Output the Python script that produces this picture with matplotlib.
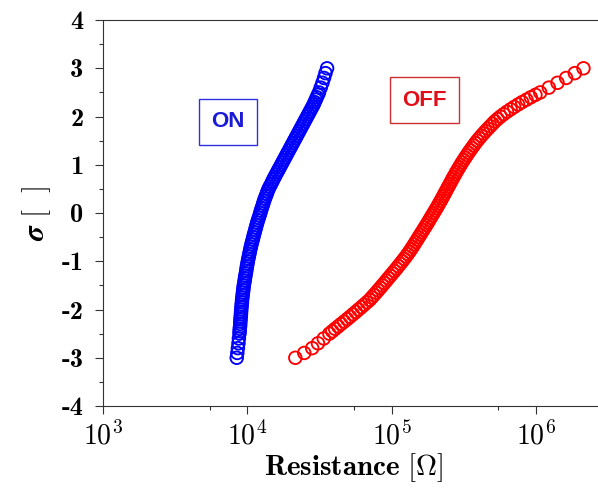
import numpy as np
import matplotlib.pyplot as plt
from matplotlib.ticker import FixedLocator, NullFormatter

plt.rcParams['mathtext.fontset'] = 'cm'
plt.rcParams['axes.unicode_minus'] = False

# normal quantile (sigma) of each sample
sigma_on = [-3.0, -2.9, -2.8, -2.7, -2.6,
            -2.5, -2.45, -2.4, -2.35, -2.3, -2.25, -2.2, -2.15, -2.1, -2.05,
            -2.0, -1.95, -1.9, -1.85, -1.8, -1.75, -1.7, -1.65, -1.6, -1.55,
            -1.5, -1.45, -1.4, -1.35, -1.3, -1.25, -1.2, -1.15, -1.1, -1.05,
            -1.0, -0.95, -0.9, -0.85, -0.8, -0.75, -0.7, -0.65, -0.6, -0.55,
            -0.5, -0.45, -0.4, -0.35, -0.3, -0.25, -0.2, -0.15, -0.1, -0.05,
            0.0, 0.05, 0.1, 0.15, 0.2, 0.25, 0.3, 0.35, 0.4, 0.45,
            0.5, 0.55, 0.6, 0.65, 0.7, 0.75, 0.8, 0.85, 0.9, 0.95,
            1.0, 1.05, 1.1, 1.15, 1.2, 1.25, 1.3, 1.35, 1.4, 1.45,
            1.5, 1.55, 1.6, 1.65, 1.7, 1.75, 1.8, 1.85, 1.9, 1.95,
            2.0, 2.05, 2.1, 2.15, 2.2, 2.25, 2.3, 2.35, 2.4, 2.45,
            2.5, 2.6, 2.7, 2.8, 2.9, 3.0]
sigma_off = list(sigma_on)

# log10 of resistance [Ohm]
log_res_on = [3.927, 3.931, 3.935, 3.939, 3.942,
              3.946, 3.947, 3.948, 3.950, 3.951, 3.952, 3.953, 3.955, 3.956, 3.957,
              3.958, 3.960, 3.961, 3.963, 3.964, 3.966, 3.968, 3.970, 3.972, 3.974,
              3.976, 3.979, 3.982, 3.984, 3.987, 3.990, 3.993, 3.995, 3.998, 4.001,
              4.004, 4.007, 4.011, 4.014, 4.018, 4.021, 4.025, 4.029, 4.033, 4.038,
              4.042, 4.046, 4.051, 4.055, 4.060, 4.064, 4.069, 4.074, 4.080, 4.085,
              4.090, 4.095, 4.100, 4.106, 4.111, 4.116, 4.122, 4.129, 4.135, 4.141,
              4.148, 4.156, 4.165, 4.173, 4.181, 4.190, 4.199, 4.208, 4.217, 4.226,
              4.235, 4.244, 4.253, 4.262, 4.271, 4.280, 4.289, 4.298, 4.307, 4.316,
              4.325, 4.334, 4.343, 4.352, 4.361, 4.370, 4.379, 4.388, 4.397, 4.406,
              4.415, 4.424, 4.433, 4.442, 4.451, 4.460, 4.467, 4.475, 4.482, 4.490,
              4.497, 4.509, 4.521, 4.532, 4.542, 4.553]
log_res_off = [4.333, 4.395, 4.450, 4.490, 4.530,
               4.569, 4.589, 4.609, 4.630, 4.650, 4.671, 4.692, 4.712, 4.732, 4.752,
               4.771, 4.791, 4.810, 4.829, 4.848, 4.863, 4.878, 4.893, 4.907, 4.922,
               4.936, 4.950, 4.964, 4.978, 4.992, 5.006, 5.020, 5.034, 5.047, 5.061,
               5.074, 5.087, 5.100, 5.112, 5.124, 5.135, 5.146, 5.157, 5.167, 5.178,
               5.188, 5.199, 5.209, 5.220, 5.230, 5.241, 5.251, 5.261, 5.271, 5.281,
               5.291, 5.301, 5.311, 5.321, 5.330, 5.340, 5.349, 5.358, 5.367, 5.376,
               5.385, 5.394, 5.403, 5.412, 5.421, 5.430, 5.440, 5.449, 5.459, 5.469,
               5.479, 5.489, 5.500, 5.511, 5.522, 5.533, 5.545, 5.557, 5.569, 5.581,
               5.594, 5.608, 5.622, 5.637, 5.652, 5.668, 5.684, 5.700, 5.716, 5.735,
               5.755, 5.777, 5.800, 5.825, 5.850, 5.877, 5.905, 5.935, 5.965, 5.997,
               6.030, 6.090, 6.150, 6.210, 6.270, 6.330]

res_on = 10 ** np.array(log_res_on)
res_off = 10 ** np.array(log_res_off)

fig = plt.figure(figsize=(5.98, 4.98), dpi=100)
ax = fig.add_axes([0.1722, 0.1847, 0.839, 0.775])

ax.scatter(res_on, sigma_on, s=82, facecolors='none', edgecolors='#0000ff',
           linewidths=1.35)
ax.scatter(res_off, sigma_off, s=82, facecolors='none', edgecolors='#ff0000',
           linewidths=1.35)

ax.set_xscale('log')
ax.set_xlim(1e3, 3e6)
ax.set_ylim(-4, 4)

ax.xaxis.set_major_locator(FixedLocator([1e3, 1e4, 1e5, 1e6]))
ax.set_xticklabels([r'$\mathbf{10^{%d}}$' % p for p in (3, 4, 5, 6)],
                   fontsize=20)
ax.xaxis.set_minor_locator(FixedLocator([5.5e3, 5.5e4, 5.5e5]))
ax.xaxis.set_minor_formatter(NullFormatter())

ax.set_yticks(range(-4, 5))
ax.set_yticklabels([str(v) for v in range(-4, 5)], fontfamily='cmb10',
                   fontsize=19)
ax.set_yticks(np.arange(-3.5, 4, 1), minor=True)

ax.tick_params(which='major', direction='out', length=6, width=0.8,
               color='#333333')
ax.tick_params(axis='y', which='major', pad=8)
ax.tick_params(axis='x', which='major', pad=5)
ax.tick_params(which='minor', direction='out', length=3, width=0.8,
               color='#333333')
for s in ax.spines.values():
    s.set_color('#333333')
    s.set_linewidth(0.8)

ax.set_xlabel(r'$\mathbf{Resistance\ [\Omega]}$', fontsize=21, labelpad=1)
ax.set_ylabel(r'$\boldsymbol{\sigma}\ \mathbf{[\ \ ]}$', fontsize=21,
              labelpad=6)

ax.text(7.34e3, 1.89, 'ON', color='#1a1ad8', fontsize=16, fontweight='bold',
        family='Liberation Sans', ha='center', va='center',
        bbox=dict(boxstyle='square,pad=0.55', fc='white', ec='#3030e0', lw=1))
ax.text(1.68e5, 2.34, 'OFF', color='#e0101a', fontsize=16, fontweight='bold',
        family='Liberation Sans', ha='center', va='center',
        bbox=dict(boxstyle='square,pad=0.55', fc='white', ec='#d03030', lw=1))

fig.savefig('out.png', dpi=100)
